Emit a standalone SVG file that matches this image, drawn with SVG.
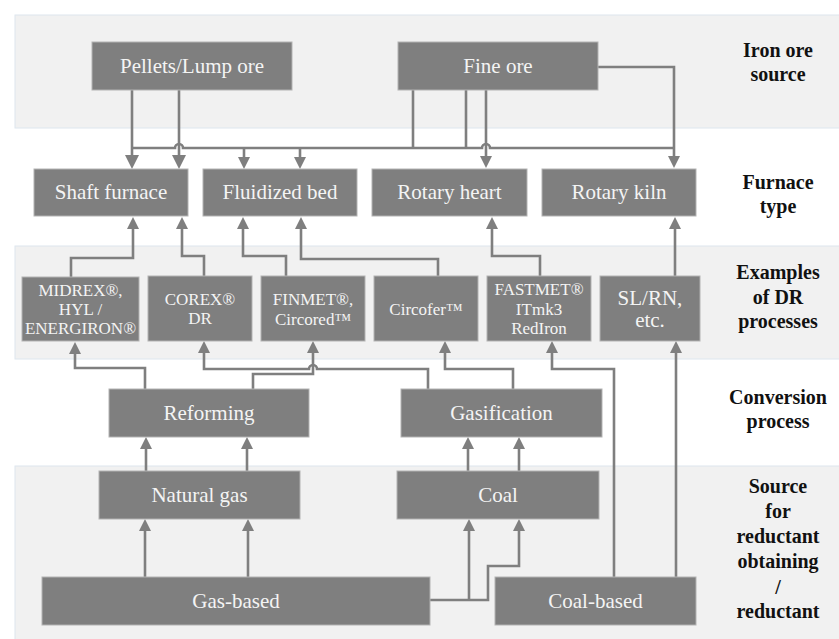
<svg xmlns="http://www.w3.org/2000/svg" width="839" height="639" viewBox="0 0 839 639" font-family="Liberation Serif, Times New Roman, serif">
<defs>
<style>
.band{fill:#f1f1f1;stroke:#dde6ee;stroke-width:1}
.box{fill:#7f7f7f;stroke:#b3b3b3;stroke-width:1}
.t{font-size:21px;fill:#f4f4f4;text-anchor:middle}
.s{font-size:17px}
.lab{font-size:20px;font-weight:bold;fill:#111;text-anchor:middle}
.c{fill:none;stroke:#7f7f7f;stroke-width:2.6}
</style>
<marker id="ah" viewBox="0 0 12 12" refX="6" refY="6" markerWidth="12" markerHeight="12" markerUnits="userSpaceOnUse" orient="auto"><path d="M0,0 L12,6 L0,12 z" fill="#7f7f7f"/></marker>
<marker id="ahL" viewBox="0 0 14 14" refX="7" refY="7" markerWidth="14" markerHeight="14" markerUnits="userSpaceOnUse" orient="auto"><path d="M0,0 L14,7 L0,14 z" fill="#7f7f7f"/></marker>
</defs>
<g id="bands">
<rect class="band" x="15" y="15" width="830" height="113"/>
<rect class="band" x="15" y="246" width="830" height="113"/>
<rect class="band" x="15" y="466" width="830" height="180"/>
</g>
<g id="connectors">
<path class="c" d="M132,90 V162" marker-end="url(#ahL)"/>
<path class="c" d="M179,90 V162" marker-end="url(#ahL)"/>
<path class="c" d="M132,148 H175 A4,4 0 0 1 183,148 H482 A4,4 0 0 1 490,148 H674"/>
<path class="c" d="M244,148 V163" marker-end="url(#ah)"/>
<path class="c" d="M300,148 V163" marker-end="url(#ah)"/>
<path class="c" d="M413,90 V148"/>
<path class="c" d="M466,90 V148"/>
<path class="c" d="M486,90 V162" marker-end="url(#ah)"/>
<path class="c" d="M598,67 H674 V162" marker-end="url(#ah)"/>
<path class="c" d="M71,278 V258 H133 V223" marker-end="url(#ah)"/>
<path class="c" d="M204,276 V256 H182 V223" marker-end="url(#ah)"/>
<path class="c" d="M286,276 V256 H243 V223" marker-end="url(#ah)"/>
<path class="c" d="M438,276 V259 H301 V223" marker-end="url(#ah)"/>
<path class="c" d="M540,276 V256 H492 V223" marker-end="url(#ah)"/>
<path class="c" d="M675,276 V223" marker-end="url(#ah)"/>
<path class="c" d="M145,389 V368 H75 V348" marker-end="url(#ah)"/>
<path class="c" d="M428,389 V369 H317 A4,4 0 0 0 309,369 H204 V347" marker-end="url(#ah)"/>
<path class="c" d="M253,389 V374 H313 V347" marker-end="url(#ah)"/>
<path class="c" d="M513,389 V369 H445 V347" marker-end="url(#ah)"/>
<path class="c" d="M614,577 V369 H552 V347" marker-end="url(#ah)"/>
<path class="c" d="M676,577 V347" marker-end="url(#ah)"/>
<path class="c" d="M146,471 V443" marker-end="url(#ah)"/>
<path class="c" d="M247,471 V443" marker-end="url(#ah)"/>
<path class="c" d="M145,577 V525" marker-end="url(#ah)"/>
<path class="c" d="M248,577 V525" marker-end="url(#ah)"/>
<path class="c" d="M468,471 V443" marker-end="url(#ah)"/>
<path class="c" d="M519,471 V443" marker-end="url(#ah)"/>
<path class="c" d="M430,600 H488 V566 H519 V525" marker-end="url(#ah)"/>
<path class="c" d="M469,600 V525" marker-end="url(#ah)"/>
</g>
<g id="pellets"><rect class="box" x="92" y="42" width="200" height="48"/><text class="t" x="192" y="73">Pellets/Lump ore</text></g>
<g id="fine-ore"><rect class="box" x="398" y="42" width="200" height="48"/><text class="t" x="498" y="73">Fine ore</text></g>
<g id="shaft-furnace"><rect class="box" x="34" y="169" width="154" height="47"/><text class="t" x="111" y="199">Shaft furnace</text></g>
<g id="fluidized-bed"><rect class="box" x="203" y="169" width="154" height="47"/><text class="t" x="280" y="199">Fluidized bed</text></g>
<g id="rotary-heart"><rect class="box" x="372" y="169" width="155" height="47"/><text class="t" x="449.5" y="199">Rotary heart</text></g>
<g id="rotary-kiln"><rect class="box" x="542" y="169" width="154" height="47"/><text class="t" x="619" y="199">Rotary kiln</text></g>
<g id="midrex"><rect class="box" x="22" y="277" width="117" height="64"/><text class="t s" x="80.5" y="296">MIDREX®,</text><text class="t s" x="80.5" y="315">HYL /</text><text class="t s" x="80.5" y="334">ENERGIRON®</text></g>
<g id="corex"><rect class="box" x="148" y="276" width="104" height="65"/><text class="t s" x="200" y="305">COREX®</text><text class="t s" x="200" y="324">DR</text></g>
<g id="finmet"><rect class="box" x="261" y="276" width="104" height="65"/><text class="t s" x="313" y="305">FINMET®,</text><text class="t s" x="313" y="325">Circored™</text></g>
<g id="circofer"><rect class="box" x="374" y="276" width="104" height="65"/><text class="t s" x="426" y="315">Circofer™</text></g>
<g id="fastmet"><rect class="box" x="487" y="276" width="104" height="65"/><text class="t s" x="539" y="295">FASTMET®</text><text class="t s" x="539" y="315">ITmk3</text><text class="t s" x="539" y="334">RedIron</text></g>
<g id="slrn"><rect class="box" x="600" y="276" width="100" height="65"/><text class="t" x="650" y="305">SL/RN,</text><text class="t" x="650" y="327">etc.</text></g>
<g id="reforming"><rect class="box" x="109" y="389" width="200" height="48"/><text class="t" x="209" y="420">Reforming</text></g>
<g id="gasification"><rect class="box" x="401" y="389" width="201" height="48"/><text class="t" x="501.5" y="420">Gasification</text></g>
<g id="natural-gas"><rect class="box" x="99" y="471" width="201" height="48"/><text class="t" x="199.5" y="502">Natural gas</text></g>
<g id="coal"><rect class="box" x="397" y="471" width="202" height="48"/><text class="t" x="498" y="502">Coal</text></g>
<g id="gas-based"><rect class="box" x="42" y="577" width="388" height="48"/><text class="t" x="236" y="608">Gas-based</text></g>
<g id="coal-based"><rect class="box" x="495" y="577" width="201" height="48"/><text class="t" x="595.5" y="608">Coal-based</text></g>
<g id="labels">
<text class="lab" x="778" y="57">Iron ore</text><text class="lab" x="778" y="81">source</text>
<text class="lab" x="778" y="189">Furnace</text><text class="lab" x="778" y="213">type</text>
<text class="lab" x="778" y="279">Examples</text><text class="lab" x="778" y="304">of DR</text><text class="lab" x="778" y="328">processes</text>
<text class="lab" x="778" y="404">Conversion</text><text class="lab" x="778" y="428">process</text>
<text class="lab" x="778" y="493">Source</text><text class="lab" x="778" y="518">for</text><text class="lab" x="778" y="543">reductant</text><text class="lab" x="778" y="568">obtaining</text><text class="lab" x="778" y="594">/</text><text class="lab" x="778" y="618">reductant</text>
</g>
</svg>
